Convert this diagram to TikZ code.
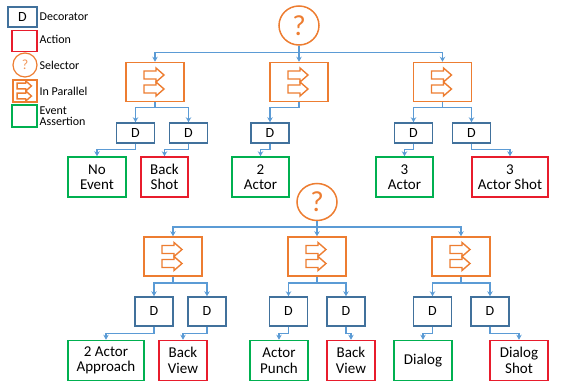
\documentclass[tikz,border=0pt]{standalone}
\usepackage{fontspec}
\setmainfont{Carlito}
\usetikzlibrary{arrows.meta,shapes.geometric}

\definecolor{decoblue}{RGB}{65,113,156}
\definecolor{linkblue}{RGB}{91,155,213}
\definecolor{selorange}{RGB}{237,125,49}
\definecolor{actred}{RGB}{232,28,44}
\definecolor{evgreen}{RGB}{0,176,80}

\tikzset{
  box/.style={rectangle, draw, line width=1.5pt, inner sep=0pt, fill=white},
  deco/.style={box, draw=decoblue, minimum width=38pt, minimum height=20pt,
    font=\fontsize{14}{14}\selectfont},
  decotall/.style={deco, minimum height=29pt},
  action/.style={box, draw=actred, minimum height=40pt, align=center,
    font=\fontsize{15}{15.5}\selectfont},
  event/.style={box, draw=evgreen, minimum height=40pt, align=center,
    font=\fontsize{15}{15.5}\selectfont},
  selector/.style={ellipse, draw=selorange, line width=1.5pt, inner sep=0pt,
    minimum width=40pt, minimum height=39pt, text=selorange,
    font=\fontsize{29}{29}\selectfont},
  parbox/.style={box, draw=selorange, minimum width=58pt, minimum height=39pt},
  conn/.style={draw=linkblue, line width=1.5pt,
    -{Stealth[length=5pt,width=5.5pt]}},
  legtext/.style={anchor=west, inner sep=0pt, font=\fontsize{12}{12.5}\selectfont,
    align=left},
  pararrows/.pic={
    \draw[selorange, line width=1.4pt, line join=miter, fill=white]
      (-11,-11) -- (1,-11) -- (1,-14) -- (9,-7) -- (1,0) -- (1,-3) -- (-11,-3) -- cycle;
    \draw[selorange, line width=1.4pt, line join=miter, fill=white]
      (-11,3) -- (1,3) -- (1,0) -- (9,7) -- (1,14) -- (1,11) -- (-11,11) -- cycle;
  }
}

\begin{document}
\begin{tikzpicture}[x=1pt, y=-1pt]
\useasboundingbox (0,0) rectangle (563,382);

% ---------- legend ----------
\node[box, draw=decoblue, minimum width=29pt, minimum height=20pt,
  font=\fontsize{14}{14}\selectfont] (kD) at (22.5,17) {D};
\node[legtext] (kDt) at (39.5,17) {Decorator};
\node[box, draw=actred, minimum width=25pt, minimum height=21pt] (kA) at (24.5,41) {};
\node[legtext] (kAt) at (39.5,39) {Action};
\node[circle, draw=selorange, line width=1.2pt, minimum size=24pt, inner sep=0pt,
  text=selorange!80, font=\fontsize{14}{14}\selectfont] (kS) at (25,65) {?};
\node[legtext] (kSt) at (39.5,65) {Selector};
\node[box, draw=selorange, minimum width=24pt, minimum height=22pt] (kP) at (25,91) {};
\pic[scale=0.72] at (kP.center) {pararrows};
\node[legtext] (kPt) at (39.5,91) {In Parallel};
\node[box, draw=evgreen, minimum width=25pt, minimum height=22pt] (kE) at (24.5,116) {};
\node[legtext, font=\fontsize{12}{11.5}\selectfont] (kEt) at (39.5,116) {Event\\Assertion};

% ---------- upper tree ----------
\node[selector] (S1) at (299,25.5) {?};

\node[parbox] (P1) at (155,82) {};
\node[parbox] (P2) at (299,82) {};
\node[parbox] (P3) at (442.5,82) {};
\foreach \p in {P1,P2,P3} \pic at (\p.center) {pararrows};

\node[deco] (D1) at (135.5,133) {D};
\node[deco] (D2) at (188.5,133) {D};
\node[deco] (D3) at (270,133) {D};
\node[deco] (D4) at (413.5,133) {D};
\node[deco] (D5) at (471.5,133) {D};

\node[event,  minimum width=58pt] (L1) at (97,177)    {No\\Event};
\node[action, minimum width=47pt] (L2) at (164.5,177) {Back\\Shot};
\node[event,  minimum width=57pt] (L3) at (260.5,177) {2\\Actor};
\node[event,  minimum width=57pt] (L4) at (404.5,177) {3\\Actor};
\node[action, minimum width=76pt] (L5) at (510,177)   {3\\Actor Shot};

\foreach \p in {P1,P2,P3}
  \draw[conn] (S1.south) -- ++(0,7) -| (\p.north);
\draw[conn] (P1.south) -- ++(0,5.5) -| (D1.north);
\draw[conn] (P1.south) -- ++(0,5.5) -| (D2.north);
\draw[conn] (P2.south) -- ++(0,5.5) -| (D3.north);
\draw[conn] (P3.south) -- ++(0,5.5) -| (D4.north);
\draw[conn] (P3.south) -- ++(0,5.5) -| (D5.north);
\draw[conn] (D1.south) -- ++(0,6) -| (L1.north);
\draw[conn] (D2.south) -- ++(0,6) -| (L2.north);
\draw[conn] (D3.south) -- ++(0,6) -| (L3.north);
\draw[conn] (D4.south) -- ++(0,6) -| (L4.north);
\draw[conn] (D5.south) -- ++(0,6) -| (L5.north);

% ---------- lower tree ----------
\node[selector, minimum height=37pt] (S2) at (317,202) {?};

\node[parbox] (Q1) at (173,256.5) {};
\node[parbox] (Q2) at (317,256.5) {};
\node[parbox] (Q3) at (461,256.5) {};
\foreach \q in {Q1,Q2,Q3} \pic at (\q.center) {pararrows};

\node[decotall] (E1) at (154,311.5) {D};
\node[decotall] (E2) at (207,311.5) {D};
\node[decotall] (E3) at (288.5,311.5) {D};
\node[decotall] (E4) at (346,311.5) {D};
\node[decotall] (E5) at (432.5,311.5) {D};
\node[decotall] (E6) at (490,311.5) {D};

\node[event,  minimum width=76pt] (M1) at (106,360.5) {2 Actor\\Approach};
\node[action, minimum width=48pt] (M2) at (183,360.5) {Back\\View};
\node[event,  minimum width=58pt] (M3) at (279,360.5) {Actor\\Punch};
\node[action, minimum width=48pt] (M4) at (351,360.5) {Back\\View};
\node[event,  minimum width=58pt] (M5) at (423,360.5) {Dialog};
\node[action, minimum width=58pt] (M6) at (519,360.5) {Dialog\\Shot};

\foreach \q in {Q1,Q2,Q3}
  \draw[conn] (S2.south) -- ++(0,6) -| (\q.north);
\draw[conn] (Q1.south) -- ++(0,6.5) -| (E1.north);
\draw[conn] (Q1.south) -- ++(0,6.5) -| (E2.north);
\draw[conn] (Q2.south) -- ++(0,6.5) -| (E3.north);
\draw[conn] (Q2.south) -- ++(0,6.5) -| (E4.north);
\draw[conn] (Q3.south) -- ++(0,6.5) -| (E5.north);
\draw[conn] (Q3.south) -- ++(0,6.5) -| (E6.north);
\draw[conn] (E1.south) -- ++(0,7) -| (M1.north);
\draw[conn] (E2.south) -- ++(0,7) -| (M2.north);
\draw[conn] (E3.south) -- ++(0,7) -| (M3.north);
\draw[conn] (E4.south) -- ++(0,7) -| (M4.north);
\draw[conn] (E5.south) -- ++(0,7) -| (M5.north);
\draw[conn] (E6.south) -- ++(0,7) -| (M6.north);
\end{tikzpicture}
\end{document}
